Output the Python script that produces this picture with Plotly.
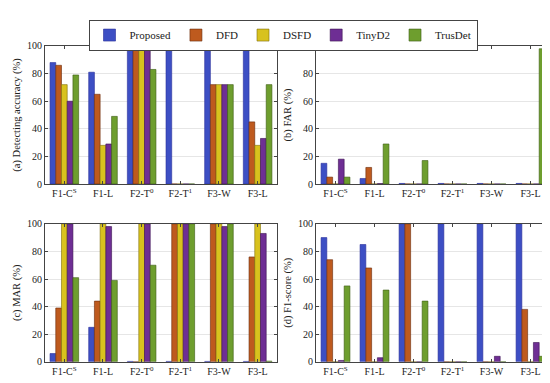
import plotly.graph_objects as go

categories = ["F1-C<sup>S</sup>", "F1-L", "F2-T<sup>0</sup>", "F2-T<sup>1</sup>", "F3-W", "F3-L"]
methods = ["Proposed", "DFD", "DSFD", "TinyD2", "TrusDet"]
colors = ["#3D4FC4", "#BE5A1E", "#D8C21E", "#6E2E94", "#6E9E2E"]
edges = ["#2A2F9A", "#6A2A0A", "#806E0A", "#3A1050", "#3A5A10"]

# (a) Detecting accuracy (%)
acc_proposed = [88, 81, 100, 100, 100, 100]
acc_dfd = [86, 65, 100, 0, 72, 45]
acc_dsfd = [72, 28, 100, 0, 72, 28]
acc_tinyd2 = [60, 29, 100, 0, 72, 33]
acc_trusdet = [79, 49, 83, 0, 72, 72]

# (b) FAR (%)
far_proposed = [15, 4, 0.4, 0.4, 0.4, 0.4]
far_dfd = [5, 12, 0, 0, 0, 0]
far_dsfd = [0, 0, 0, 0, 0, 0]
far_tinyd2 = [18, 0.3, 0, 0, 0, 0]
far_trusdet = [5, 29, 17, 0, 0, 98]

# (c) MAR (%)
mar_proposed = [6, 25, 0.3, 0.3, 0.3, 0.3]
mar_dfd = [39, 44, 0, 100, 100, 76]
mar_dsfd = [100, 100, 100, 100, 100, 100]
mar_tinyd2 = [100, 98, 100, 100, 98, 93]
mar_trusdet = [61, 59, 70, 100, 100, 0.5]

# (d) F1-score (%)
f1_proposed = [90, 85, 100, 100, 100, 100]
f1_dfd = [74, 68, 100, 0, 0, 38]
f1_dsfd = [0, 0, 0, 0, 0, 0]
f1_tinyd2 = [1, 3, 0, 0, 4, 14]
f1_trusdet = [55, 52, 44, 0, 0, 4]

panels = [
    ([acc_proposed, acc_dfd, acc_dsfd, acc_tinyd2, acc_trusdet], "(a) Detecting accuracy (%)"),
    ([far_proposed, far_dfd, far_dsfd, far_tinyd2, far_trusdet], "(b) FAR (%)"),
    ([mar_proposed, mar_dfd, mar_dsfd, mar_tinyd2, mar_trusdet], "(c) MAR (%)"),
    ([f1_proposed, f1_dfd, f1_dsfd, f1_tinyd2, f1_trusdet], "(d) F1-score (%)"),
]

xdomains = [[0.0673, 0.489], [0.56, 0.9855], [0.0673, 0.489], [0.56, 0.9855]]
ydomains = [[0.543, 0.914], [0.543, 0.914], [0.065, 0.436], [0.065, 0.436]]

fig = go.Figure()
font = "Liberation Serif, Times New Roman, serif"
layout = dict(
    width=550, height=383,
    margin=dict(l=0, r=0, t=0, b=0),
    paper_bgcolor="white", plot_bgcolor="white",
    barmode="group", bargap=0.26, bargroupgap=0,
    font=dict(family=font, size=10, color="#222"),
    showlegend=True,
    legend=dict(orientation="h", x=0.5, xanchor="center", y=0.985, yanchor="top",
                bordercolor="#444", borderwidth=1, font=dict(size=11, family=font),
                itemwidth=30, tracegroupgap=0),
)

for p, (series, title) in enumerate(panels):
    idx = "" if p == 0 else str(p + 1)
    for m, vals in enumerate(series):
        fig.add_trace(go.Bar(
            x=list(range(len(categories))), y=vals, name=methods[m],
            marker=dict(color=colors[m], line=dict(color=edges[m], width=0.6)),
            xaxis="x" + idx, yaxis="y" + idx, showlegend=(p == 0),
        ))
    layout["xaxis" + idx] = dict(
        domain=xdomains[p], anchor="y" + idx, range=[-0.5, 5.5],
        tickmode="array", tickvals=list(range(6)), ticktext=categories,
        showline=True, linecolor="#444", linewidth=0.8, mirror="ticks",
        ticks="inside", ticklen=3, tickcolor="#444", showgrid=False,
        tickfont=dict(size=10, family=font), zeroline=False,
    )
    layout["yaxis" + idx] = dict(
        domain=ydomains[p], anchor="x" + idx, range=[0, 100],
        tickvals=[0, 20, 40, 60, 80, 100],
        showline=True, linecolor="#444", linewidth=0.8, mirror="ticks",
        ticks="inside", ticklen=3, tickcolor="#444",
        showgrid=True, gridcolor="#E6E6E6", gridwidth=0.8, zeroline=False,
        tickfont=dict(size=10, family=font),
        title=dict(text=title, font=dict(size=10.5, family=font), standoff=4),
    )

fig.update_layout(**layout)
fig.write_html("out.html")
